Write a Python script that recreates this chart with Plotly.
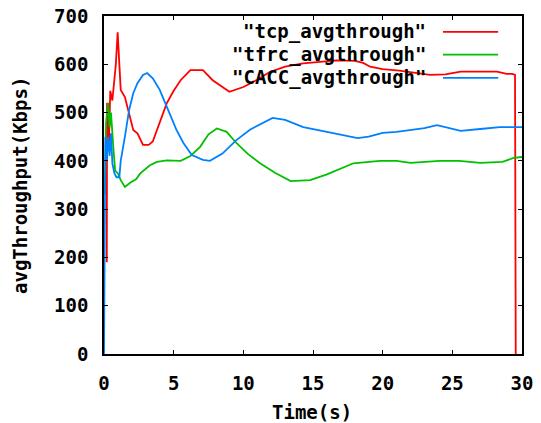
import plotly.graph_objects as go

# ---- data ----
tcp_t = [0.2, 0.22, 0.35, 0.45, 0.6, 0.7, 0.85, 0.98, 1.1, 1.2, 1.5, 1.7, 1.87, 2.1, 2.4, 2.8, 3.2, 3.5,
         4.0, 4.5, 5.0, 5.5, 6.2, 7.1, 7.8, 8.5, 9.0, 10.0, 10.8, 11.9, 13.0, 14.3, 15.5, 16.7, 18.0,
         18.6, 19.1, 20.0, 21.2, 22.3, 23.4, 24.5, 25.6, 27.0, 28.2, 28.9, 29.3, 29.5, 29.55]
tcp_v = [190, 520, 430, 545, 525, 560, 600, 666, 600, 547, 532, 512, 490, 464, 457, 433, 433, 440,
         478, 519, 545, 567, 588, 588, 567, 553, 543, 553, 565, 584, 595, 602, 605, 608, 607,
         603, 595, 590, 587, 582, 578, 579, 585, 585, 585, 580, 580, 578, 0]

tfrc_t = [0.05, 0.15, 0.3, 0.4, 0.5, 0.6, 0.7, 0.8, 1.0, 1.2, 1.5, 1.9, 2.3, 2.6, 3.3, 3.8, 4.5, 5.5, 6.2,
          6.9, 7.5, 8.1, 8.8, 9.5, 10.3, 11.2, 12.3, 13.4, 14.8, 16.0, 17.7, 17.9, 19.8, 21.0, 22.0,
          24.1, 25.5, 27.0, 28.6, 29.4, 30.0]
tfrc_v = [330, 480, 520, 470, 500, 450, 416, 380, 374, 360, 346, 355, 362, 374, 391, 398, 401, 400, 410,
          429, 455, 467, 460, 437, 415, 395, 375, 358, 360, 372, 393, 395, 400, 400, 396,
          400, 400, 396, 398, 406, 408]

cacc_t = [0, 0.05, 0.1, 0.2, 0.3, 0.4, 0.5, 0.6, 0.75, 0.9, 1.1, 1.2, 1.35, 1.5, 1.8, 2.1, 2.4, 2.8,
          3.1, 3.5, 4.0, 4.5, 5.2, 5.7, 6.3, 7.1, 7.6, 8.5, 9.5, 10.5, 12.1, 13.0, 14.3, 16.0, 17.7,
          18.2, 19.0, 20.0, 21.0, 22.2, 23.0, 23.9, 24.8, 25.6, 27.0, 28.4, 30.0]
cacc_v = [0, 400, 450, 402, 450, 410, 457, 395, 374, 366, 366, 400, 430, 450, 505, 540, 561, 578,
          582, 571, 547, 512, 464, 437, 412, 402, 400, 415, 443, 465, 489, 485, 470, 460, 449,
          447, 450, 458, 460, 464, 468, 474, 468, 462, 466, 470, 470]

series_names = ['"tcp_avgthrough"', '"tfrc_avgthrough"', '"CACC_avgthrough"']
series_colors = ["#ff0000", "#00c000", "#0080ff"]
x_ticks = [0, 5, 10, 15, 20, 25, 30]
y_ticks = [0, 100, 200, 300, 400, 500, 600, 700]
x_title = "Time(s)"
y_title = "avgThroughput(Kbps)"

FONT = "DejaVu Sans Mono"
fsize = 19
tfont = dict(family=FONT, size=fsize, color="black", weight="bold")

fig = go.Figure()
for (t, v), name, col in zip([(tcp_t, tcp_v), (tfrc_t, tfrc_v), (cacc_t, cacc_v)], series_names, series_colors):
    fig.add_trace(go.Scatter(x=t, y=v, mode="lines", name=name,
                             line=dict(color=col, width=1.8), showlegend=False))

# gnuplot-style legend: text right-aligned, sample line to the right
rows_y = [0.953, 0.886, 0.817]
for name, col, yy in zip(series_names, series_colors, rows_y):
    fig.add_annotation(xref="paper", yref="paper", x=0.775, y=yy, text=name, showarrow=False,
                       xanchor="right", yanchor="middle", font=tfont)
    fig.add_shape(type="line", xref="paper", yref="paper", x0=0.811, x1=0.943, y0=yy, y1=yy,
                  line=dict(color=col, width=1.8))

# axis titles
fig.add_annotation(xref="paper", yref="paper", x=0.498, y=-0.172, text=x_title, showarrow=False,
                   xanchor="center", yanchor="middle", font=tfont)
fig.add_annotation(xref="paper", yref="paper", x=-0.201, y=0.5, text=y_title, showarrow=False,
                   xanchor="center", yanchor="middle", textangle=-90, font=tfont)

axis_common = dict(showline=True, linecolor="black", linewidth=1.5, mirror="ticks",
                   ticks="inside", ticklen=4, tickcolor="black", tickwidth=1.2,
                   showgrid=False, zeroline=False, automargin=False, tickfont=tfont,
                   ticklabeloverflow="allow")

fig.update_xaxes(range=[0, 30], tickvals=x_ticks, ticktext=[str(v) for v in x_ticks],
                 ticklabelstandoff=11, **axis_common)
fig.update_yaxes(range=[0, 700], tickvals=y_ticks, ticktext=[str(v) for v in y_ticks],
                 ticklabelstandoff=10, **axis_common)

fig.update_layout(width=541, height=423, margin=dict(l=104, r=19, t=16, b=69),
                  paper_bgcolor="white", plot_bgcolor="white")

# remove the page's default body margin so the figure fills the window exactly
fig.write_html("out.html", config={"displayModeBar": False},
               post_script="document.body.style.margin='0';")
